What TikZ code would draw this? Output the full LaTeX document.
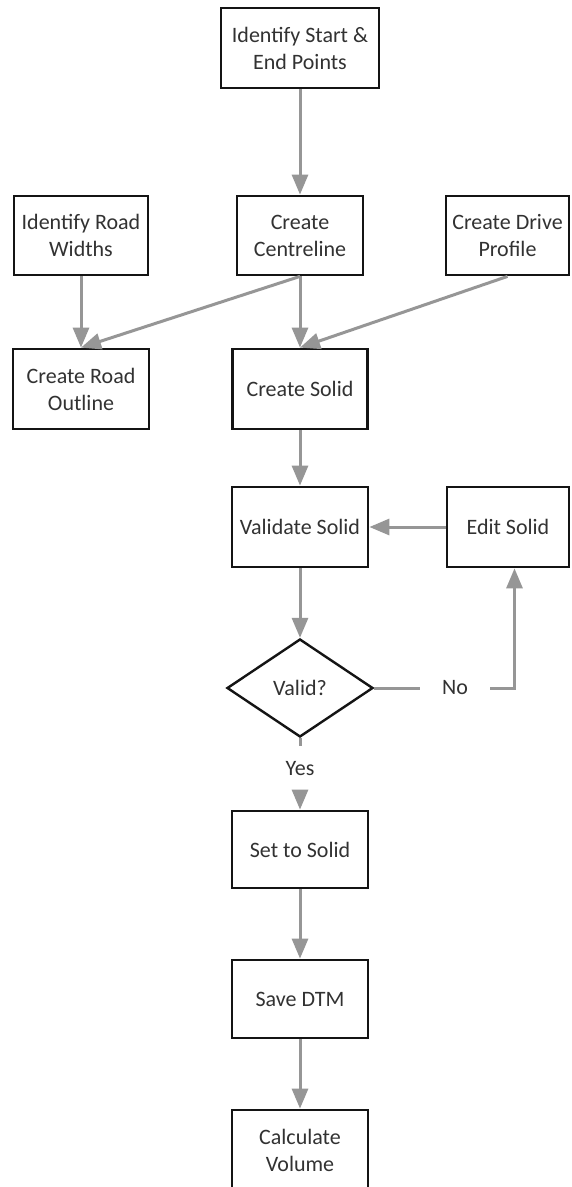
\documentclass[tikz,border=0pt]{standalone}
\usepackage{fontspec}
\setmainfont{Carlito}
\usetikzlibrary{arrows.meta,shapes.geometric}
\definecolor{arrowgray}{RGB}{150,150,150}
\definecolor{boxline}{RGB}{20,20,20}
\definecolor{txt}{RGB}{50,50,50}
\begin{document}
\begin{tikzpicture}[x=1pt,y=-1pt,
  box/.style={draw=boxline, line width=2.8pt, fill=white, inner sep=0pt,
    minimum width=#1, minimum height=80pt, align=center, text=txt,
    font=\fontsize{22}{27}\selectfont},
  box/.default=136pt,
  decision/.style={diamond, draw=boxline, line width=2.4pt, fill=white, inner sep=0pt,
    aspect=1.5, minimum width=146pt, minimum height=98pt, text=txt,
    font=\fontsize{22}{27}\selectfont},
  lbl/.style={inner sep=0pt, text=txt, font=\fontsize{22}{27}\selectfont},
  flow/.style={draw=arrowgray, line width=3pt, -{Triangle[length=20pt,width=16pt]}},
  plain/.style={draw=arrowgray, line width=3pt}
]
\useasboundingbox (0,0) rectangle (571,1187);
\fill[white] (0,0) rectangle (571,1187);

\node[box=158pt] (start) at (300,48) {Identify Start \&\\End Points};
\node[box=134pt, minimum height=79pt] (widths) at (81,235.5) {Identify Road\\Widths};
\node[box=126pt, minimum height=79pt] (centre) at (300,235.5) {Create\\Centreline};
\node[box=123pt, minimum height=79pt] (drive) at (507.5,235.5) {Create Drive\\Profile};
\node[box=136pt] (outline) at (81,389) {Create Road\\Outline};
\node[box=135pt] (solid) at (300,389) {Create Solid};
\node[box=136pt] (validate) at (300,527) {Validate Solid};
\node[box=122pt] (edit) at (508,527) {Edit Solid};
\node[decision] (valid) at (300,688) {Valid?};
\node[lbl, minimum width=70pt, minimum height=30pt] (no) at (455,688) {No};
\node[lbl, minimum width=40pt, minimum height=46pt] (yes) at (300,769) {Yes};
\node[box=136pt, minimum height=77pt] (set) at (300,849.5) {Set to Solid};
\node[box=136pt, minimum height=78pt] (save) at (300,999) {Save DTM};
\node[box=136pt, minimum height=80pt] (calc) at (300,1150) {Calculate\\Volume};

\draw[flow] (start) -- (centre);
\draw[flow] (widths) -- (outline);
\draw[flow] (centre.south) -- (outline.north);
\draw[flow] (centre) -- (solid);
\draw[flow] (drive.south) -- (solid.north);
\draw[flow] (solid) -- (validate);
\draw[flow] (edit) -- (validate);
\draw[flow] (validate) -- (valid);
\draw[plain] (valid.east) -- (no.west);
\draw[flow] (no.east) -| ([xshift=6.5pt]edit.south);
\draw[plain] (valid.south) -- (yes.north);
\draw[flow] (yes.south) -- (set.north);
\draw[flow] (set) -- (save);
\draw[flow] (save) -- (calc);
\end{tikzpicture}
\end{document}
